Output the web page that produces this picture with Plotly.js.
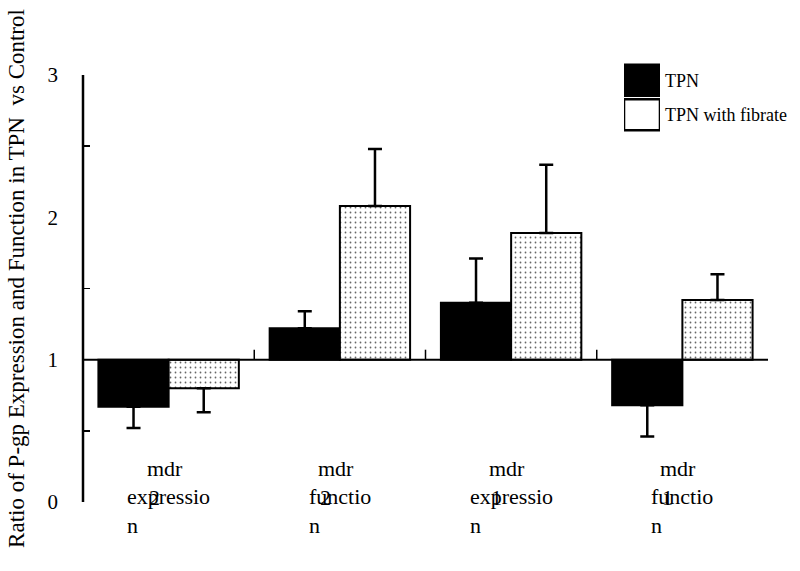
<!DOCTYPE html>
<html>
<head>
<meta charset="utf-8">
<script src="https://cdn.plot.ly/plotly-3.0.1.min.js"></script>
<style>html,body{margin:0;padding:0;background:#fff;}#chart{width:800px;height:571px;}</style>
</head>
<body>
<div id="chart"></div>
<script>
// ---- data ----
var categories = ['mdr2 expression', 'mdr2 function', 'mdr1 expression', 'mdr1 function'];
var geneLabels = ['mdr', 'mdr', 'mdr', 'mdr'];
var isoformLabels = ['2', '2', '1', '1'];
var measureLabels = ['expressio<br>n', 'functio<br>n', 'expressio<br>n', 'functio<br>n'];
var seriesNames = ['TPN', 'TPN with fibrate'];
var tpnValues = [0.67, 1.22, 1.40, 0.68];
var tpnErrors = [0.15, 0.12, 0.31, 0.22];
var fibrateValues = [0.80, 2.08, 1.89, 1.42];
var fibrateErrors = [0.17, 0.40, 0.48, 0.18];
var baseline = 1;
var yTickVals = [0, 1, 2, 3];
var yMinorTickVals = [0.5, 1.5, 2.5];
var yTitle = 'Ratio of P-gp Expression and Function in TPN \u00a0vs Control';

// ---- helpers ----
var FONT = "'Liberation Serif', 'Times New Roman', serif";
function offsets(vals) { return vals.map(function (v) { return v - baseline; }); }
function errUp(vals, errs) { return vals.map(function (v, i) { return v >= baseline ? errs[i] : 0; }); }
function errDown(vals, errs) { return vals.map(function (v, i) { return v < baseline ? errs[i] : 0; }); }

function barTrace(name, vals, errs, color, pattern) {
  return {
    type: 'bar', name: name, x: categories, y: offsets(vals), base: baseline,
    marker: {
      color: color,
      line: { color: 'black', width: 2 },
      pattern: pattern
    },
    error_y: {
      type: 'data', symmetric: false,
      array: errUp(vals, errs), arrayminus: errDown(vals, errs),
      color: 'black', thickness: 2.5, width: 7
    },
    showlegend: false, hoverinfo: 'skip'
  };
}

var dotPattern = { shape: '.', fgcolor: '#666', bgcolor: 'white', size: 5, solidity: 0.1 };

var traces = [
  barTrace(seriesNames[0], tpnValues, tpnErrors, 'black', { shape: '' }),
  barTrace(seriesNames[1], fibrateValues, fibrateErrors, 'white', dotPattern),
  {
    // legend swatches
    type: 'bar', orientation: 'h',
    y: seriesNames.slice().reverse(), x: [1, 1], width: [0.9, 0.9],
    xaxis: 'x2', yaxis: 'y2',
    marker: {
      color: ['white', 'black'],
      line: { color: 'black', width: 2.5 },
      pattern: { shape: ['.', ''], fgcolor: '#666', bgcolor: 'white', size: 5, solidity: 0.1 }
    },
    showlegend: false, hoverinfo: 'skip'
  }
];

// ---- shapes (axis line, baseline, category separators) ----
var shapes = [
  { type: 'line', xref: 'paper', yref: 'y', x0: 0, x1: 0, y0: yTickVals[0], y1: yTickVals[yTickVals.length - 1],
    line: { color: 'black', width: 2.5 } },
  { type: 'line', xref: 'paper', yref: 'y', x0: 0, x1: 1, y0: baseline, y1: baseline,
    line: { color: 'black', width: 2 } }
];
for (var i = 1; i < categories.length; i++) {
  shapes.push({ type: 'line', xref: 'x', yref: 'y', x0: i - 0.5, x1: i - 0.5, y0: baseline, y1: baseline + 0.07,
    line: { color: 'black', width: 1.5 } });
}

// ---- category labels ----
var annotations = [];
var labFont = { family: FONT, size: 22, color: 'black' };
categories.forEach(function (c, i) {
  annotations.push({ x: c, xref: 'x', y: 0, yref: 'y', text: geneLabels[i], showarrow: false,
    xanchor: 'left', yanchor: 'middle', xshift: -24, yshift: 34, font: labFont });
  annotations.push({ x: c, xref: 'x', y: 0, yref: 'y', text: measureLabels[i], showarrow: false,
    xanchor: 'center', yanchor: 'middle', align: 'left', yshift: -9, font: labFont });
  annotations.push({ x: c, xref: 'x', y: 0, yref: 'y', text: isoformLabels[i], showarrow: false,
    xanchor: 'left', yanchor: 'middle', xshift: -22, yshift: 5, font: labFont });
});

var plotTop = 55, plotBottom = 502, yUnitPx = 427 / 3;
var yMax = 3 + (plotBottom - 427 - plotTop) / yUnitPx;

var layout = {
  width: 800, height: 571,
  margin: { l: 83, r: 32, t: plotTop, b: 571 - plotBottom, pad: 0 },
  paper_bgcolor: 'white', plot_bgcolor: 'white',
  font: { family: FONT, color: 'black' },
  barmode: 'group', bargap: 0.18, bargroupgap: 0,
  showlegend: false,
  xaxis: {
    type: 'category', range: [-0.5, categories.length - 0.5], showticklabels: false,
    showline: false, showgrid: false, zeroline: false, ticks: '', fixedrange: true
  },
  yaxis: {
    range: [0, yMax], tickvals: yTickVals, ticks: '', showline: false, showgrid: false, zeroline: false,
    tickfont: { family: FONT, size: 21, color: 'black' }, ticklabelstandoff: 24,
    minor: { tickvals: yMinorTickVals, ticks: 'inside', ticklen: 7, tickwidth: 1.5, tickcolor: 'black', showgrid: false },
    title: { text: yTitle, font: { family: FONT, size: 23, color: 'black' }, standoff: 16 },
    automargin: false, fixedrange: true
  },
  xaxis2: { domain: [0.7898, 0.8423], range: [0, 1], visible: false, anchor: 'y2', fixedrange: true },
  yaxis2: {
    domain: [0.8277, 0.9821], anchor: 'x2', side: 'right', type: 'category', range: [-0.5, 1.5],
    showline: false, showgrid: false, zeroline: false, ticks: '',
    tickfont: { family: FONT, size: 18, color: 'black' }, ticklabelstandoff: 4, fixedrange: true
  },
  shapes: shapes,
  annotations: annotations
};

Plotly.newPlot('chart', traces, layout, { staticPlot: true, displayModeBar: false });
</script>
</body>
</html>
